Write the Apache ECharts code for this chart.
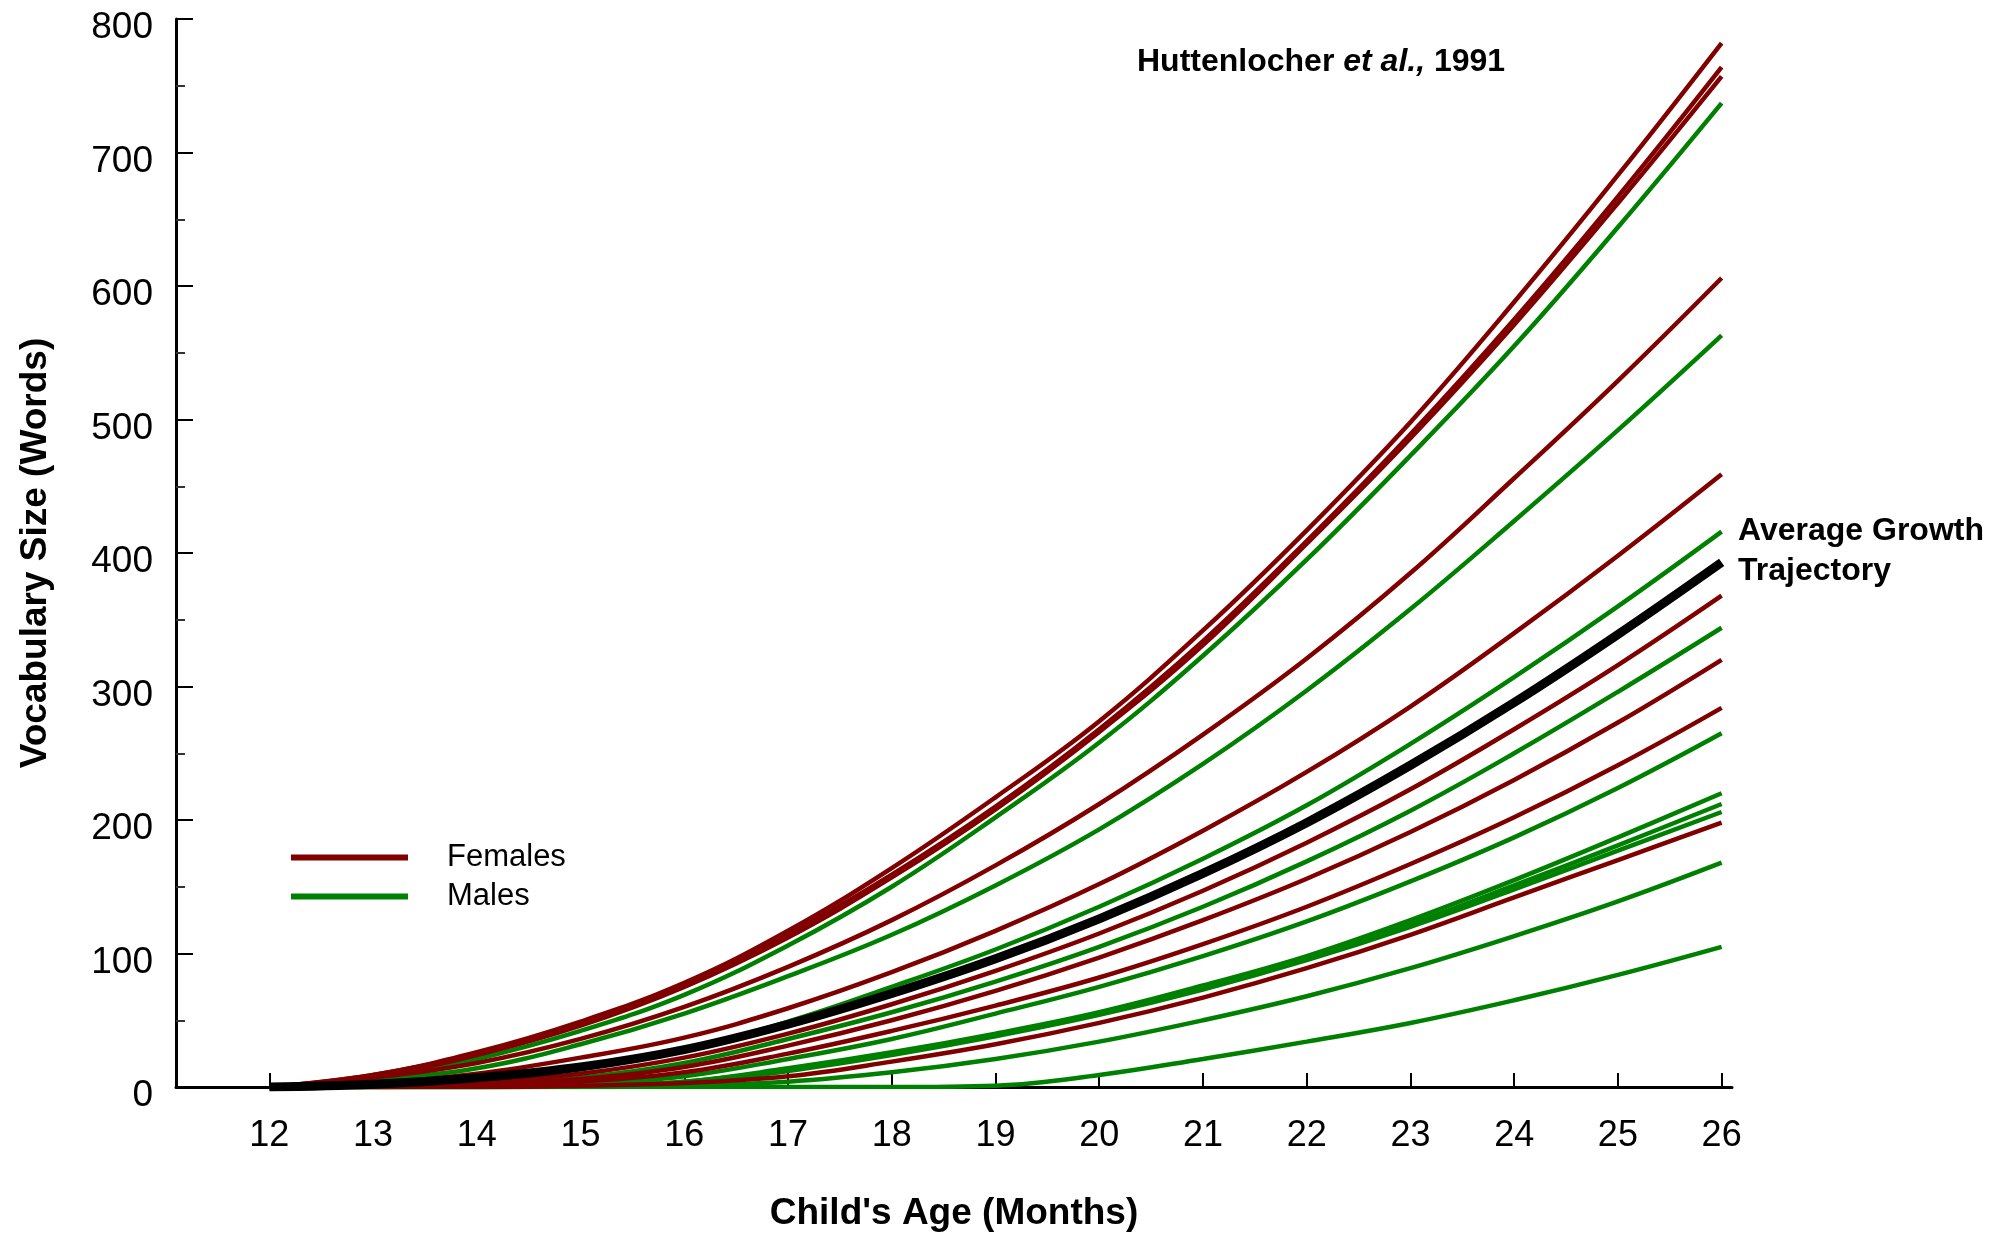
<!DOCTYPE html>
<html>
<head>
<meta charset="utf-8">
<script src="https://cdn.jsdelivr.net/npm/echarts@6/dist/echarts.min.js"></script>
<style>
html,body{margin:0;padding:0;background:#fff;}
#chart{width:2005px;height:1237px;}
</style>
</head>
<body>
<div id="chart"></div>
<script>
// Child's age (months) at which each curve is sampled
const months = [12, 13, 14, 15, 16, 17, 18, 19, 20, 21, 22, 23, 24, 25, 26];
const xTicks = [12, 13, 14, 15, 16, 17, 18, 19, 20, 21, 22, 23, 24, 25, 26];

// Females (vocabulary size, words)
const female1  = [0, 9, 26, 49, 78, 117, 164, 217, 274, 342, 417, 498, 588, 683, 782];
const female2  = [0, 9, 25, 47, 76, 114, 159, 210, 268, 334, 409, 489, 575, 667, 764];
const female3  = [0, 8, 24, 46, 75, 112, 157, 208, 266, 331, 407, 486, 571, 662, 757];
const female4  = [0, 7, 18, 36, 60, 90, 125, 166, 212, 264, 321, 385, 456, 529, 606];
const female5  = [0, 3, 10, 22, 37, 59, 86, 117, 152, 192, 236, 285, 340, 398, 459];
const female6  = [0, 1, 4, 10, 22, 40, 62, 87, 115, 147, 183, 223, 268, 316, 368];
const female7  = [0, 0, 2, 6, 15, 31, 50, 72, 97, 125, 156, 191, 230, 273, 320];
const female8  = [0, 0, 1, 4, 11, 25, 42, 61, 82, 107, 135, 167, 202, 241, 284];
const female9  = [0, 0, 0, 1, 3, 8, 19, 32, 48, 67, 89, 114, 142, 170, 198];

// Males
const male1  = [0, 6, 21, 42, 69, 106, 150, 202, 258, 323, 395, 473, 555, 644, 737];
const male2  = [0, 5, 14, 32, 55, 83, 114, 151, 193, 242, 297, 358, 424, 492, 563];
const male3  = [0, 1, 5, 14, 28, 49, 75, 103, 135, 171, 211, 257, 307, 360, 416];
const male4  = [0, 0, 2, 7, 18, 36, 56, 79, 105, 135, 169, 207, 250, 296, 344];
const male5  = [0, 0, 0, 2, 8, 21, 36, 55, 75, 98, 124, 154, 187, 224, 265];
const male6  = [0, 0, 0, 1, 4, 14, 26, 40, 56, 76, 98, 125, 155, 187, 220];
const male7  = [0, 0, 0, 1, 4, 13, 25, 39, 55, 74, 96, 122, 151, 181, 212];
const male8  = [0, 0, 0, 1, 3, 12, 24, 38, 54, 73, 95, 120, 148, 177, 206];
const male9  = [0, 0, 0, 0, 1, 4, 11, 21, 34, 50, 68, 89, 113, 139, 168];
const male10 = [0, 0, 0, 0, 0, 0, 0, 1, 9, 21, 34, 48, 65, 84, 105];

// Average growth trajectory
const average = [0, 2, 7, 15, 28, 47, 70, 96, 126, 160, 198, 241, 288, 339, 393];

const females = [female1, female2, female3, female4, female5, female6, female7, female8, female9];
const males = [male1, male2, male3, male4, male5, male6, male7, male8, male9, male10];

const FONT = "'Liberation Sans', Arial, Helvetica, sans-serif";
const RED = '#800000';
const GREEN = '#008000';

function pairs(vals) { return months.map((m, i) => [m, vals[i]]); }
function lineSeries(name, vals, color, width) {
  return {
    name: name, type: 'line', data: pairs(vals), smooth: 0.4,
    showSymbol: false, symbol: 'none',
    lineStyle: { color: color, width: width, cap: 'butt' },
    itemStyle: { color: color },
    emphasis: { disabled: true }, silent: true, animation: false
  };
}

const series = [];
males.forEach(v => series.push(lineSeries('Males', v, GREEN, 4.5)));
females.forEach(v => series.push(lineSeries('Females', v, RED, 4.5)));
series.push(lineSeries('Average Growth Trajectory', average, '#000', 9));

const chart = echarts.init(document.getElementById('chart'), null, { renderer: 'canvas' });
chart.setOption({
  animation: false,
  backgroundColor: '#fff',
  grid: { left: 176, top: 19, right: 273, bottom: 150 },
  title: {
    text: '{a|Huttenlocher }{b|et al.,}{a| 1991}',
    left: 1137, top: 42, padding: 0,
    textStyle: {
      rich: {
        a: { fontSize: 32, fontWeight: 'bold', fontFamily: FONT, color: '#000', lineHeight: 40 },
        b: { fontSize: 32, fontWeight: 'bold', fontStyle: 'italic', fontFamily: FONT, color: '#000', lineHeight: 40 }
      }
    }
  },
  legend: {
    orient: 'vertical', left: 291, top: 838, padding: 0,
    itemWidth: 117, itemHeight: 6, itemGap: 0, selectedMode: false,
    textStyle: { fontSize: 31, fontFamily: FONT, color: '#000', lineHeight: 39, padding: [0, 0, 0, 34] },
    data: [{ name: 'Females', icon: 'rect' }, { name: 'Males', icon: 'rect' }]
  },
  xAxis: {
    type: 'value', min: 11.1, max: 26.1,
    name: "Child's Age (Months)", nameLocation: 'middle', nameGap: 108,
    nameTextStyle: { fontSize: 37, fontWeight: 'bold', fontFamily: FONT, color: '#000' },
    axisLine: { show: true, onZero: false, lineStyle: { color: '#000', width: 3 } },
    axisTick: { show: true, inside: true, length: 14, customValues: xTicks, lineStyle: { color: '#000', width: 2 } },
    axisLabel: { customValues: xTicks, fontSize: 36, fontFamily: FONT, color: '#000', margin: 31 },
    splitLine: { show: false }
  },
  yAxis: {
    type: 'value', min: 0, max: 800, interval: 100,
    name: 'Vocabulary Size (Words)', nameLocation: 'middle', nameGap: 122, nameRotate: 90,
    nameTextStyle: { fontSize: 37, fontWeight: 'bold', fontFamily: FONT, color: '#000' },
    axisLine: { show: true, lineStyle: { color: '#000', width: 3 } },
    axisTick: { show: true, inside: true, length: 17, lineStyle: { color: '#000', width: 2 } },
    minorTick: { show: true, splitNumber: 2, length: 9, lineStyle: { color: '#333', width: 2 } },
    axisLabel: {
      margin: 23,
      formatter: '{v|{value}}',
      rich: { v: { fontSize: 37, fontFamily: FONT, color: '#000', padding: [18, 0, 0, 0] } }
    },
    splitLine: { show: false }
  },
  graphic: [{
    type: 'text', left: 1738, top: 511, silent: true,
    style: {
      text: 'Average Growth\nTrajectory',
      font: "bold 32px 'Liberation Sans', Arial, sans-serif",
      lineHeight: 40, fill: '#000'
    }
  }],
  series: series
});
</script>
</body>
</html>
